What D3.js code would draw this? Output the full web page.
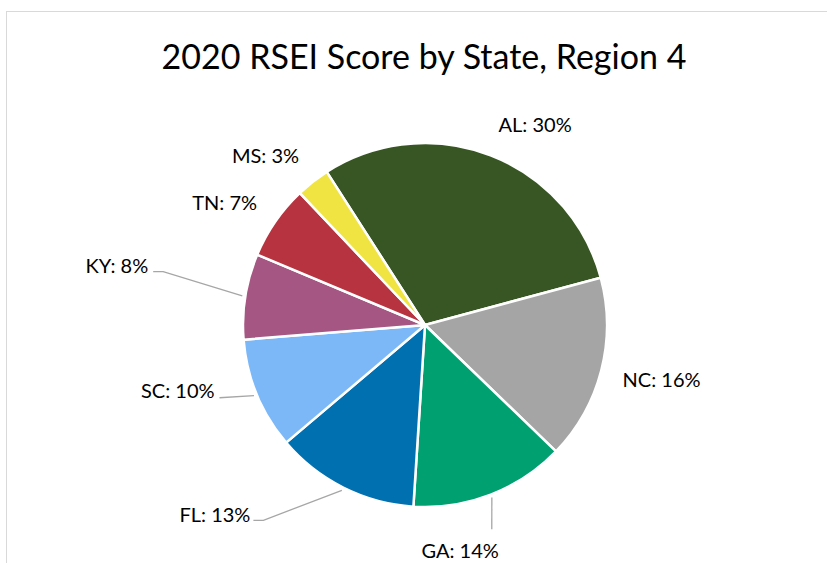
<!DOCTYPE html>
<html>
<head>
<meta charset="utf-8">
<script src="https://cdn.jsdelivr.net/npm/d3@7"></script>
<style>
  html, body { margin: 0; padding: 0; background: #ffffff; }
  svg { display: block; }
  text { font-family: Lato, "Open Sans", "Liberation Sans", sans-serif; fill: #000; }
</style>
</head>
<body>
<svg id="chart" width="827" height="563"></svg>
<script>
// ---- data ----
const title = "2020 RSEI Score by State, Region 4";
const states = ["AL", "NC", "GA", "FL", "SC", "KY", "TN", "MS"];
const shares = [29.9, 16.4, 13.8, 12.8, 9.9, 7.6, 6.6, 3.0];
const colors = ["#375623", "#a5a5a5", "#00a070", "#0070b0", "#7cb8f7", "#a65682", "#b7333f", "#f0e442"];

// label layout for labels that sit away from the slice and use a leader line
// (polar position of the leader-line end: angle in degrees, distance from centre)
const leaderLabels = {
  KY: { ang: 281.1, dist: 277, elbow: true, anchor: "end", dx: -5, dy: 1 },
  SC: { ang: 250.5, dist: 218, elbow: false, anchor: "end", dx: -5, dy: 0 },
  FL: { ang: 221.3, dist: 260, elbow: true, anchor: "end", dx: -3, dy: 2 },
  GA: { ang: 161.9, dist: 215, elbow: false, anchor: "end", dx: 7, dy: 29 }
};

// ---- layout ----
const W = 827, H = 563;
const cx = 425, cy = 325, r = 182;
const startDeg = -32.7;
const rad = d => d * Math.PI / 180;

const svg = d3.select("#chart");

// chart frame
svg.append("rect")
  .attr("x", 6.5).attr("y", 11.5)
  .attr("width", 900).attr("height", 700)
  .attr("fill", "#fff").attr("stroke", "#d9d9d9").attr("stroke-width", 1);

// title
svg.append("text")
  .attr("x", 424).attr("y", 69)
  .attr("text-anchor", "middle")
  .style("font-size", "34px")
  .text(title);

const data = states.map((s, i) => ({ state: s, value: shares[i], color: colors[i] }));

const pie = d3.pie()
  .value(d => d.value)
  .sort(null)
  .startAngle(rad(startDeg))
  .endAngle(rad(startDeg + 360));

const arcs = pie(data);
const arc = d3.arc().innerRadius(0).outerRadius(r);

const g = svg.append("g").attr("transform", `translate(${cx},${cy})`);

g.selectAll("path.slice")
  .data(arcs)
  .join("path")
  .attr("class", "slice")
  .attr("d", arc)
  .attr("fill", d => d.data.color)
  .attr("stroke", "#fff")
  .attr("stroke-width", 2.5)
  .attr("stroke-linejoin", "round");

const total = d3.sum(shares);
const fmt = v => Math.round(v / total * 100) + "%";
const polar = (angDeg, dist) => [Math.sin(rad(angDeg)) * dist, -Math.cos(rad(angDeg)) * dist];

const labelFont = 20;
const labels = g.append("g");

arcs.forEach(a => {
  const mid = (a.startAngle + a.endAngle) / 2; // radians
  const midDeg = mid * 180 / Math.PI;
  const txt = a.data.state + ": " + fmt(a.data.value);
  const lay = leaderLabels[a.data.state];
  if (lay) {
    const p0 = polar(midDeg, r + 3);
    const p1 = polar(lay.ang, lay.dist);
    const pts = lay.elbow ? [p0, [p1[0] + 10, p1[1]], p1] : [p0, p1];
    labels.append("path")
      .attr("d", d3.line()(pts))
      .attr("fill", "none")
      .attr("stroke", "#a6a6a6")
      .attr("stroke-width", 1.3);
    labels.append("text")
      .attr("x", p1[0] + lay.dx)
      .attr("y", p1[1] + lay.dy)
      .attr("text-anchor", lay.anchor)
      .style("font-size", labelFont + "px")
      .text(txt);
  } else {
    const p = polar(midDeg, r + 22);
    const t = labels.append("text")
      .style("font-size", labelFont + "px")
      .attr("dominant-baseline", "central")
      .text(txt);
    const bb = t.node().getBBox();
    const s = Math.sin(mid), c = Math.cos(mid);
    const bx = p[0] + Math.sign(s) * bb.width / 2;
    const by = p[1] - c * bb.height / 2;
    t.attr("x", bx).attr("y", by).attr("text-anchor", "middle");
  }
});
</script>
</body>
</html>
